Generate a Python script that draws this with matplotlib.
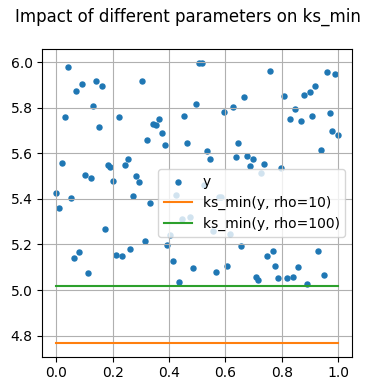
import numpy as np
import matplotlib
matplotlib.use("Agg")
import matplotlib.pyplot as plt

# samples y, evenly spaced over [0, 1]
y = [5.425, 5.360, 5.556, 5.758, 5.981, 5.404, 5.140, 5.876, 5.168, 5.907,
     5.504, 5.075, 5.491, 5.806, 5.920, 5.718, 5.895, 5.268, 5.548, 5.539,
     5.477, 5.154, 5.762, 5.149, 5.548, 5.574, 5.180, 5.413, 5.499, 5.473,
     5.920, 5.216, 5.661, 5.382, 5.729, 5.724, 5.750, 5.689, 5.636, 5.199,
     5.243, 5.128, 5.417, 5.035, 5.311, 5.763, 5.645, 5.320, 5.098, 5.816,
     5.996, 5.995, 5.460, 5.610, 5.577, 5.261, 5.079, 5.410, 5.410, 5.781,
     5.105, 5.246, 5.803, 5.583, 5.645, 5.193, 5.846, 5.588, 5.544, 5.575,
     5.058, 5.044, 5.514, 5.554, 5.149, 5.962, 5.171, 5.105, 5.053, 5.535,
     5.852, 5.053, 5.751, 5.057, 5.795, 5.101, 5.742, 5.855, 5.026, 5.868,
     5.763, 5.895, 5.171, 5.614, 5.066, 5.956, 5.776, 5.697, 5.947, 5.680]
x = np.linspace(0, 1, len(y))

# ks_min aggregate values for the two rho settings
rho_labels = ["ks_min(y, rho=10)", "ks_min(y, rho=100)"]
ks_values = [4.769, 5.019]
line_colors = ["C1", "C2"]

fig = plt.figure(figsize=(3.75, 3.91), dpi=100)
ax = fig.add_axes([0.113, 0.088, 0.826, 0.786])
ax.scatter(x, y, s=13, color="C0", label="y")
for lab, val, c in zip(rho_labels, ks_values, line_colors):
    ax.plot(x, np.full_like(x, val), color=c, label=lab)
ax.grid(True)
ax.legend(loc="center right")
fig.suptitle("Impact of different parameters on ks_min")
fig.savefig("out.png", dpi=100)
